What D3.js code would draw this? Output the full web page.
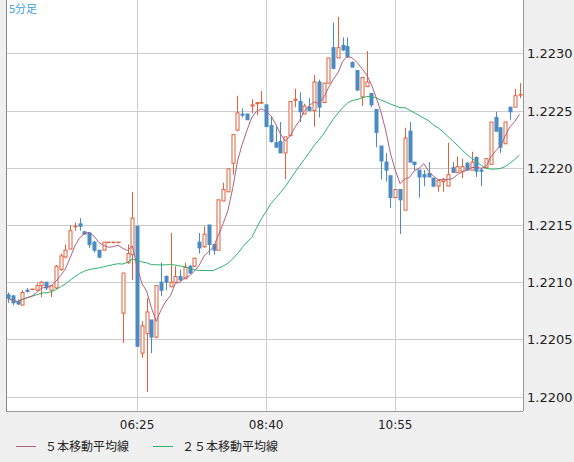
<!DOCTYPE html>
<meta charset="utf-8">
<body style="margin:0">
</body>
<script src="https://d3js.org/d3.v7.min.js"></script>
<script>

// 5-minute candles, 04:10 .. 13:05 (price offsets in 1e-5 above 1.22000)
var openPts  = [89,88,83,80,93,94,93,97,100,93,95,111,122,129,149,151,144,143,135,128,128,135,135,135,73,117,124,149,38,55,67,52,100,105,96,100,105,103,114,114,135,131,150,133,128,171,179,204,233,247,247,254,256,257,255,237,222,223,213,228,259,258,247,253,250,275,257,274,305,296,307,306,292,285,262,271,265,251,219,205,193,174,181,163,232,205,198,194,195,191,184,188,184,200,196,197,204,198,209,198,200,203,244,235,221,253,253,264];
var highPts  = [91,89,85,93,95,94,99,101,100,97,115,125,133,150,152,156,145,144,136,128,135,135,135,135,108,133,179,149,66,86,67,97,117,106,143,114,111,117,115,121,143,149,150,133,172,187,199,229,263,252,247,260,257,267,255,245,236,240,227,258,269,266,256,261,281,277,274,296,327,332,314,314,293,285,279,302,265,251,219,213,193,181,181,235,240,205,198,198,205,191,189,191,222,205,210,208,205,214,210,200,208,240,249,235,240,253,269,274];
var lowPts   = [82,80,80,80,91,93,92,87,93,87,94,110,121,129,145,145,142,130,126,121,128,135,135,135,47,116,102,44,34,4,38,51,88,93,96,100,101,103,107,113,125,130,124,124,128,171,179,194,232,244,242,248,246,256,236,222,218,213,190,228,253,240,247,250,236,244,257,274,286,296,302,296,288,267,254,271,253,218,190,188,165,174,142,163,205,198,174,184,192,183,179,179,184,196,196,191,198,198,192,184,200,203,232,213,221,242,253,261];
var closePts = [86,82,81,91,92,94,97,100,95,97,114,123,128,145,149,149,142,133,128,122,135,135,135,135,108,125,156,44,62,74,52,97,93,100,100,105,102,113,108,121,130,142,133,128,172,181,199,229,248,246,242,255,257,257,236,223,218,213,227,258,260,249,254,250,275,253,274,296,287,305,303,297,288,268,279,275,255,231,206,198,174,181,172,226,205,203,192,192,192,184,189,190,194,196,201,201,198,205,197,197,208,240,232,218,240,249,263,264];

var basePrice = 1.22;
var priceTicks = [1.2200, 1.2205, 1.2210, 1.2215, 1.2220, 1.2225, 1.2230];
var timeTicks = [{i: 27, label: "06:25"}, {i: 54, label: "08:40"}, {i: 81, label: "10:55"}];
var legendLabels = ["５本移動平均線", "２５本移動平均線"];

var width = 574, height = 462;
var plot = {left: 6, right: 523, top: 0, bottom: 411};

var candles = openPts.map(function(o, i) {
  return {i: i,
    open: basePrice + o / 1e5, high: basePrice + highPts[i] / 1e5,
    low: basePrice + lowPts[i] / 1e5, close: basePrice + closePts[i] / 1e5};
});

function sma(n) {
  return candles.map(function(c, i) {
    var s = candles.slice(Math.max(0, i - n + 1), i + 1);
    return {i: i, v: d3.mean(s, function(d) { return d.close; })};
  });
}

var x = d3.scaleLinear().domain([0, candles.length - 1]).range([8, 519.5]);
var y = d3.scaleLinear().domain([1.2230, 1.2200]).range([53.4, 396.6]);

var svg = d3.select("body").append("svg")
  .attr("width", width).attr("height", height)
  .style("font-family", "DejaVu Sans");

svg.append("rect").attr("width", width).attr("height", height).attr("fill", "#f0f0f0");
svg.append("rect").attr("x", plot.left).attr("y", plot.top)
  .attr("width", plot.right - plot.left).attr("height", plot.bottom - plot.top)
  .attr("fill", "#fff");

// grid
svg.append("g").selectAll("line").data(priceTicks).enter().append("line")
  .attr("x1", plot.left).attr("x2", plot.right)
  .attr("y1", function(d) { return Math.round(y(d)) + 0.5; })
  .attr("y2", function(d) { return Math.round(y(d)) + 0.5; })
  .attr("stroke", "#cccccc");
svg.append("g").selectAll("line").data(timeTicks).enter().append("line")
  .attr("x1", function(d) { return Math.round(x(d.i)) + 0.5; })
  .attr("x2", function(d) { return Math.round(x(d.i)) + 0.5; })
  .attr("y1", plot.top).attr("y2", plot.bottom)
  .attr("stroke", "#cccccc");

// borders
svg.append("line").attr("x1", plot.left + 0.5).attr("x2", plot.left + 0.5)
  .attr("y1", 0).attr("y2", plot.bottom).attr("stroke", "#888");
svg.append("line").attr("x1", plot.right + 0.5).attr("x2", plot.right + 0.5)
  .attr("y1", 0).attr("y2", plot.bottom).attr("stroke", "#999");
svg.append("line").attr("x1", plot.left).attr("x2", plot.right)
  .attr("y1", plot.bottom + 0.5).attr("y2", plot.bottom + 0.5).attr("stroke", "#999");

// candles
var g = svg.append("g");
g.selectAll("line.wick").data(candles).enter().append("line")
  .attr("x1", function(d) { return Math.round(x(d.i)) + 0.5; })
  .attr("x2", function(d) { return Math.round(x(d.i)) + 0.5; })
  .attr("y1", function(d) { return y(d.high); })
  .attr("y2", function(d) { return y(d.low); })
  .attr("stroke", function(d) { return d.close >= d.open ? "#e0603c" : "#4a8bc4"; });
g.selectAll("rect").data(candles).enter().append("rect")
  .attr("x", function(d) { return Math.round(x(d.i)) - 1; })
  .attr("y", function(d) { return y(Math.max(d.open, d.close)); })
  .attr("width", 3)
  .attr("height", function(d) { return Math.max(0.5, Math.abs(y(d.open) - y(d.close))); })
  .attr("fill", function(d) { return d.close >= d.open ? "#fff" : "#4a8bc4"; })
  .attr("stroke", function(d) { return d.close >= d.open ? "#e0603c" : "#4a8bc4"; })
  .attr("stroke-width", 1);

// moving averages
var line = d3.line().x(function(d) { return x(d.i); }).y(function(d) { return y(d.v); });
svg.append("path").datum(sma(25)).attr("d", line)
  .attr("fill", "none").attr("stroke", "#2fb26e").attr("stroke-width", 1);
svg.append("path").datum(sma(5)).attr("d", line)
  .attr("fill", "none").attr("stroke", "#b0607f").attr("stroke-width", 1);

// axes labels
svg.append("g").selectAll("text").data(priceTicks).enter().append("text")
  .attr("x", 527).attr("y", function(d) { return y(d) + 5; })
  .attr("font-size", 13).attr("fill", "#222")
  .text(function(d) { return d.toFixed(4); });
svg.append("g").selectAll("text").data(timeTicks).enter().append("text")
  .attr("x", function(d) { return x(d.i); }).attr("y", 429)
  .attr("text-anchor", "middle").attr("font-size", 12).attr("fill", "#222")
  .text(function(d) { return d.label; });

svg.append("text").attr("x", 9).attr("y", 13).attr("font-size", 11)
  .attr("fill", "#3a9fe0").attr("font-family", "Noto Sans CJK JP").text("5分足");

// legend
var legendColors = ["#b0607f", "#2fb26e"];
var legendX = [16, 153];
legendLabels.forEach(function(label, k) {
  svg.append("line").attr("x1", legendX[k]).attr("x2", legendX[k] + 20)
    .attr("y1", 446.5).attr("y2", 446.5).attr("stroke", legendColors[k]);
  svg.append("text").attr("x", legendX[k] + 29).attr("y", 451)
    .attr("font-size", 12).attr("fill", "#222").attr("font-family", "Noto Sans CJK JP")
    .text(label);
});

</script>
